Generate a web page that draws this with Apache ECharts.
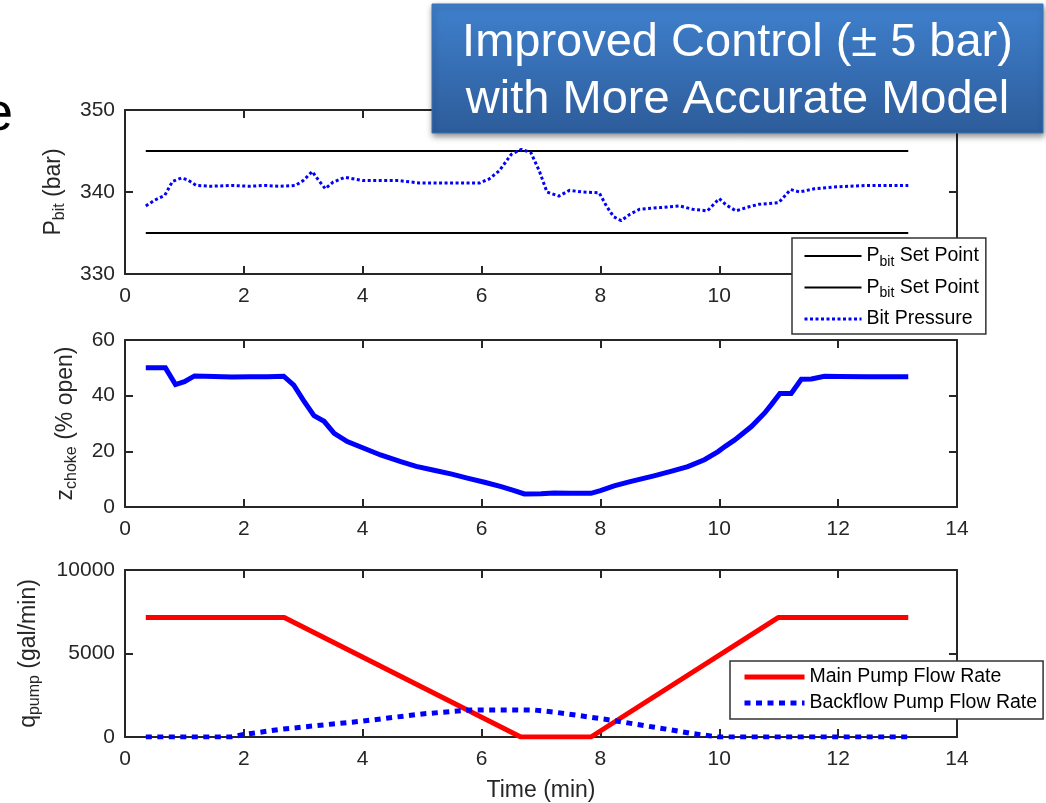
<!DOCTYPE html>
<html><head><meta charset="utf-8">
<script src="https://cdn.jsdelivr.net/npm/echarts@6/dist/echarts.min.js"></script>
<style>html,body{margin:0;padding:0;background:#fff}#c{width:1046px;height:803px}</style>
</head><body><div id="c"></div>
<script>
// ---------- data ----------
const timeTicks = [0, 2, 4, 6, 8, 10, 12, 14];
const pbitTicks = [330, 340, 350];
const chokeTicks = [0, 20, 40, 60];
const pumpTicks = [0, 5000, 10000];

const setPointTime = [0.35, 13.18];
const setPointHigh = [345, 345];
const setPointLow = [335, 335];

const bitTime = [0.35,0.5,0.67,0.8,0.95,1.05,1.2,1.45,1.8,2.1,2.35,2.6,2.87,3.0,3.15,3.25,3.37,3.5,3.7,4.0,4.6,4.95,5.5,5.97,6.13,6.3,6.5,6.67,6.83,6.97,7.1,7.3,7.48,7.7,7.98,8.1,8.22,8.35,8.5,8.66,9.0,9.33,9.55,9.8,10.0,10.12,10.28,10.5,10.67,11.0,11.2,11.35,11.6,11.9,12.2,12.5,13.18];
const bitPressure = [338.3,339.0,339.6,341.3,341.7,341.5,340.8,340.7,340.8,340.7,340.8,340.7,340.8,341.4,342.5,341.5,340.4,341.2,341.8,341.4,341.4,341.1,341.1,341.1,341.6,342.6,344.6,345.2,344.8,342.6,340.0,339.5,340.2,340.0,339.9,338.3,337.0,336.5,337.3,337.9,338.1,338.3,337.9,337.7,339.2,338.4,337.7,338.2,338.5,338.7,340.3,340.0,340.4,340.6,340.7,340.8,340.8];

const chokeTime = [0.35,0.68,0.85,1.0,1.17,1.5,1.8,2.1,2.4,2.67,2.84,3.0,3.18,3.35,3.52,3.74,4.02,4.3,4.64,4.9,5.2,5.5,5.76,6.05,6.33,6.55,6.72,7.0,7.22,7.5,7.84,8.0,8.23,8.5,8.9,9.2,9.47,9.75,9.98,10.1,10.26,10.54,10.76,10.87,11.02,11.21,11.38,11.55,11.77,12.0,12.5,13.18];
const chokeOpen = [50,50,44,45,47.1,46.9,46.7,46.8,46.8,47,43.8,38.4,32.8,30.8,26.5,23.5,21.1,18.7,16.3,14.6,13.2,11.8,10.4,8.9,7.3,5.9,4.7,4.8,5.0,4.9,4.9,5.9,7.6,9.1,11.2,12.9,14.5,17.0,19.9,21.8,24.1,28.9,33.7,36.6,40.8,40.8,45.9,46.0,47.0,46.9,46.8,46.8];

const mainTime = [0.35, 2.68, 6.66, 7.84, 10.99, 13.18];
const mainFlow = [7150, 7150, 0, 0, 7150, 7150];

const backTime = [0.35,1.78,2.0,2.6,3.0,3.5,4.0,4.5,5.0,5.5,5.82,6.4,6.9,7.2,7.45,7.8,8.24,8.6,9.13,9.5,9.98,13.18];
const backFlow = [0,0,150,450,600,780,950,1170,1380,1530,1620,1620,1610,1500,1380,1200,980,760,460,230,0,0];

// ---------- helpers ----------
const FONT = 'Liberation Sans, Arial, sans-serif';
const AX = '#262626';
const zip = (t, v) => t.map((x, i) => [x, v[i]]);
const plain = v => String(v);
const GRIDS = [
  {left: 125, top: 110, width: 832, height: 164},
  {left: 125, top: 340, width: 832, height: 167},
  {left: 125, top: 570, width: 832, height: 167}
];
const yTicksList = [pbitTicks, chokeTicks, pumpTicks];

function xAxes(g) {
  const base = {
    type: 'value', gridIndex: g,
    min: timeTicks[0], max: timeTicks[timeTicks.length - 1], interval: timeTicks[1] - timeTicks[0],
    splitLine: {show: false},
    axisLine: {show: true, onZero: false, lineStyle: {color: AX, width: 2}},
    axisTick: {show: true, inside: true, length: 8, lineStyle: {color: AX, width: 2}}
  };
  const bottom = Object.assign({}, base, {
    position: 'bottom',
    axisLabel: {show: true, margin: 12, fontSize: 21, color: AX, fontFamily: FONT, formatter: plain}
  });
  if (g === 2) {
    Object.assign(bottom, {
      name: 'Time (min)', nameLocation: 'middle', nameGap: 42,
      nameTextStyle: {fontSize: 23, color: AX, fontFamily: FONT}
    });
  }
  const top = Object.assign({}, base, {position: 'top', axisLabel: {show: false}});
  return [bottom, top];
}
const yNames = [
  {name: '{n|P}{s|bit}{n| (bar)}', gap: 57},
  {name: '{n|z}{s|choke}{n| (% open)}', gap: 45},
  {name: '{n|q}{s|pump}{n| (gal/min)}', gap: 82}
];
function yAxes(g) {
  const t = yTicksList[g];
  const base = {
    type: 'value', gridIndex: g,
    min: t[0], max: t[t.length - 1], interval: t[1] - t[0],
    splitLine: {show: false},
    axisLine: {show: true, onZero: false, lineStyle: {color: AX, width: 2}},
    axisTick: {show: true, inside: true, length: 8, lineStyle: {color: AX, width: 2}}
  };
  const left = Object.assign({}, base, {
    position: 'left',
    axisLabel: {show: true, margin: 10, fontSize: 21, color: AX, fontFamily: FONT, formatter: plain},
    name: yNames[g].name, nameLocation: 'middle', nameGap: yNames[g].gap, nameRotate: 90,
    nameTextStyle: {
      color: AX, fontFamily: FONT,
      rich: {
        n: {fontSize: 23, lineHeight: 28, color: AX, fontFamily: FONT},
        s: {fontSize: 16, lineHeight: 14, verticalAlign: 'bottom', color: AX, fontFamily: FONT}
      }
    }
  });
  const right = Object.assign({}, base, {position: 'right', axisLabel: {show: false}});
  return [left, right];
}

const lineBase = {type: 'line', symbol: 'none', showSymbol: false, animation: false, silent: true};
const noMarker = {opacity: 0, borderWidth: 0, color: 'rgba(0,0,0,0)'};

const option = {
  animation: false,
  backgroundColor: '#ffffff',
  textStyle: {fontFamily: FONT},
  grid: GRIDS.map(g => Object.assign({containLabel: false}, g)),
  xAxis: [...xAxes(0), ...xAxes(1), ...xAxes(2)],
  yAxis: [...yAxes(0), ...yAxes(1), ...yAxes(2)],
  legend: [
    {
      id: 'legendTop',
      left: 792, top: 238, orient: 'vertical', itemGap: 8.5,
      itemWidth: 57, itemHeight: 14,
      padding: [8, 7, 5, 11],
      backgroundColor: '#ffffff', borderColor: '#333333', borderWidth: 1.5, borderRadius: 0,
      selectedMode: false,
      data: [
        {name: 'Pbit Set Point', itemStyle: noMarker, lineStyle: {color: '#000', width: 2, type: 'solid'}},
        {name: 'Pbit Set Point ', itemStyle: noMarker, lineStyle: {color: '#000', width: 2, type: 'solid'}},
        {name: 'Bit Pressure', itemStyle: noMarker, lineStyle: {color: '#0000ff', width: 3, type: [3, 2.5], cap: 'butt'}}
      ],
      formatter: n => n.indexOf('Pbit') === 0 ? '{n|P}{s|bit}{n| Set Point}' : '{n|' + n + '}',
      textStyle: {
        color: '#000', fontFamily: FONT,
        rich: {
          n: {fontSize: 19.5, lineHeight: 26, color: '#000', fontFamily: FONT},
          s: {fontSize: 14, lineHeight: 10, verticalAlign: 'bottom', color: '#000', fontFamily: FONT}
        }
      }
    },
    {
      id: 'legendBottom',
      left: 730, top: 661, orient: 'vertical', itemGap: 4,
      itemWidth: 60, itemHeight: 14,
      padding: [5, 6, 5, 12],
      backgroundColor: '#ffffff', borderColor: '#333333', borderWidth: 1.5, borderRadius: 0,
      selectedMode: false,
      data: [
        {name: 'Main Pump Flow Rate', itemStyle: noMarker, lineStyle: {color: '#ff0000', width: 5, type: 'solid'}},
        {name: 'Backflow Pump Flow Rate', itemStyle: noMarker, lineStyle: {color: '#0000ff', width: 5, type: [6, 5.5], cap: 'butt'}}
      ],
      textStyle: {color: '#000', fontFamily: FONT, fontSize: 19.5, lineHeight: 22}
    }
  ],
  series: [
    Object.assign({}, lineBase, {name: 'Pbit Set Point', xAxisIndex: 0, yAxisIndex: 0,
      data: zip(setPointTime, setPointHigh), lineStyle: {color: '#000', width: 2}, itemStyle: {color: '#000'}}),
    Object.assign({}, lineBase, {name: 'Pbit Set Point ', xAxisIndex: 0, yAxisIndex: 0,
      data: zip(setPointTime, setPointLow), lineStyle: {color: '#000', width: 2}, itemStyle: {color: '#000'}}),
    Object.assign({}, lineBase, {name: 'Bit Pressure', xAxisIndex: 0, yAxisIndex: 0,
      data: zip(bitTime, bitPressure), lineStyle: {color: '#0000ff', width: 3, type: [3, 2.5], cap: 'butt'}, itemStyle: {color: '#0000ff'}}),
    Object.assign({}, lineBase, {name: 'Choke Opening', xAxisIndex: 2, yAxisIndex: 2,
      data: zip(chokeTime, chokeOpen), lineStyle: {color: '#0000ff', width: 5, join: 'miter'}, itemStyle: {color: '#0000ff'}}),
    Object.assign({}, lineBase, {name: 'Main Pump Flow Rate', xAxisIndex: 4, yAxisIndex: 4,
      data: zip(mainTime, mainFlow), lineStyle: {color: '#ff0000', width: 5}, itemStyle: {color: '#ff0000'}}),
    Object.assign({}, lineBase, {name: 'Backflow Pump Flow Rate', xAxisIndex: 4, yAxisIndex: 4,
      data: zip(backTime, backFlow), lineStyle: {color: '#0000ff', width: 5, type: [6, 5.5], cap: 'butt'}, itemStyle: {color: '#0000ff'}})
  ],
  graphic: [
    {
      type: 'text', z: 100, x: -17, y: 115,
      style: {text: 'e', fontSize: 54, fontFamily: FONT, fill: '#000', verticalAlign: 'middle', align: 'left'}
    },
    {
      type: 'rect', z: 100, x: 432, y: 4,
      shape: {width: 611, height: 129},
      style: {
        fill: {type: 'linear', x: 0, y: 0, x2: 0, y2: 1, colorStops: [
          {offset: 0, color: '#3f80cd'}, {offset: 1, color: '#2d5c9a'}]},
        stroke: '#3a72b8', lineWidth: 1,
        shadowBlur: 6, shadowOffsetX: 1, shadowOffsetY: 3, shadowColor: 'rgba(0,0,0,0.45)'
      }
    },
    {
      type: 'text', z: 101, x: 737.5, y: 15,
      style: {
        text: 'Improved Control (± 5 bar)\nwith More Accurate Model',
        fontSize: 47, lineHeight: 57, fontFamily: FONT, fill: '#ffffff',
        align: 'center', verticalAlign: 'top'
      }
    }
  ]
};

const chart = echarts.init(document.getElementById('c'), null, {renderer: 'canvas'});
chart.setOption(option);
</script>
</body></html>
